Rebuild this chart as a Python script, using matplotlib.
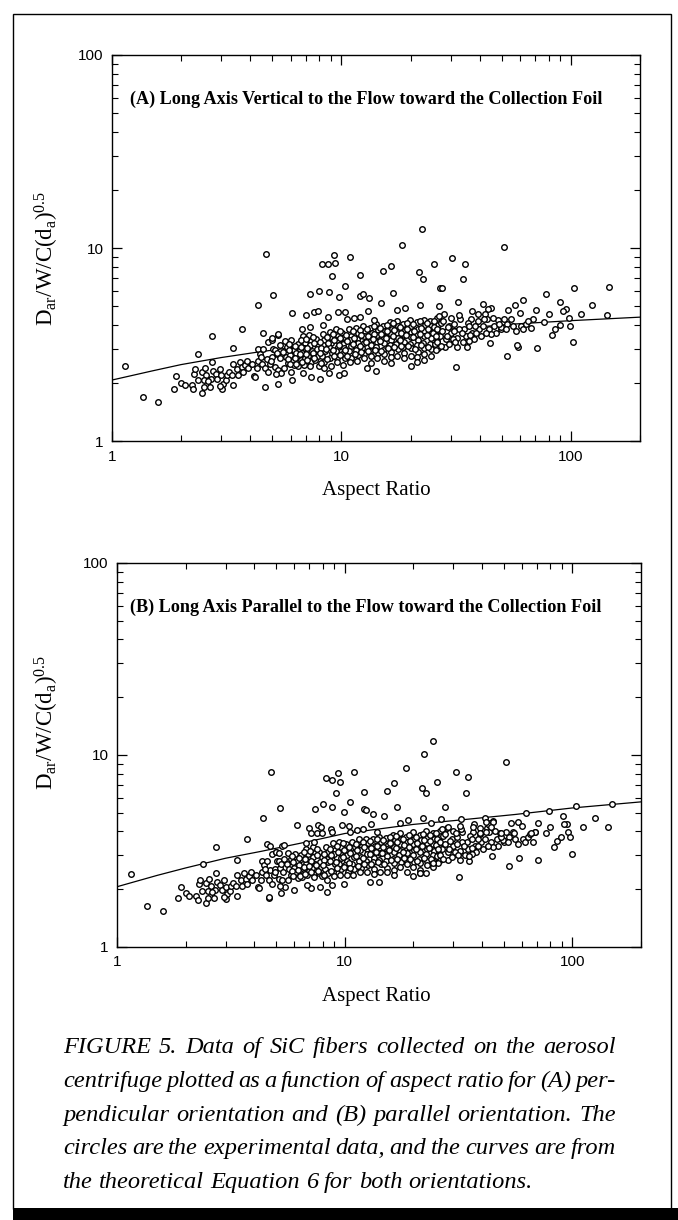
import matplotlib
matplotlib.use("Agg")
import matplotlib.pyplot as plt
from matplotlib.ticker import LogLocator, NullFormatter, FixedLocator, FixedFormatter
from matplotlib.patches import Rectangle

# ---------------- data ----------------
curve_ar = [1, 1.5, 2, 3, 4.3, 7, 10, 20, 30, 56, 100, 200]
curve_perp = [2.08, 2.32, 2.50, 2.72, 2.90, 3.13, 3.30, 3.65, 3.82, 4.05, 4.22, 4.40]
curve_par = [2.06, 2.36, 2.58, 2.90, 3.15, 3.55, 3.90, 4.35, 4.55, 4.90, 5.30, 5.70]

# dense band of fibres (same fibres, both orientations)
band_ar_low = [2.00, 2.07, 2.23, 2.26, 2.47, 2.28, 2.31, 2.46, 2.54, 2.58,
               2.52, 2.51, 2.67, 2.70, 2.76, 2.73, 2.83, 2.88, 2.95, 3.00,
               3.05, 3.02, 2.95, 3.13, 3.17, 3.23, 3.32, 3.38, 3.36, 3.49,
               3.53, 3.61, 3.67, 3.73, 3.80, 3.86, 3.93, 4.06, 4.17, 4.27,
               4.34, 4.32, 4.42, 4.49, 4.64, 4.72, 4.80, 4.88, 4.96, 5.05,
               4.80, 5.00, 4.57, 4.46, 2.62, 2.37]
band_perp_low = [2.01, 1.95, 1.95, 1.86, 1.78, 2.24, 2.38, 2.30, 2.39, 2.20,
                 2.07, 1.91, 1.91, 2.11, 2.33, 2.59, 2.24, 2.11, 2.38, 2.20,
                 1.99, 1.88, 1.93, 2.07, 2.20, 2.30, 2.21, 2.52, 1.95, 2.38,
                 2.20, 2.59, 2.42, 2.28, 2.49, 2.62, 2.39, 2.52, 2.18, 2.39,
                 2.62, 3.00, 2.84, 2.52, 2.39, 2.68, 2.28, 2.52, 2.73, 3.00,
                 3.26, 3.36, 3.00, 2.73, 2.06, 2.07]
band_par_low = [1.90, 1.85, 1.84, 1.76, 1.69, 2.12, 2.24, 2.16, 2.25, 2.07,
                1.95, 1.80, 1.81, 1.99, 2.19, 2.43, 2.10, 1.98, 2.23, 2.06,
                1.88, 1.77, 1.82, 1.95, 2.07, 2.16, 2.08, 2.37, 1.84, 2.24,
                2.07, 2.43, 2.27, 2.14, 2.34, 2.46, 2.24, 2.36, 2.05, 2.24,
                2.46, 2.81, 2.66, 2.36, 2.24, 2.51, 2.14, 2.36, 2.56, 2.81,
                3.05, 3.14, 2.81, 2.56, 1.94, 1.95]

band_ar_mid = [5.00, 5.12, 5.22, 4.93, 5.15,
               5.28, 5.42, 5.24, 5.37, 5.31, 5.47,
               5.66, 5.78, 5.58, 5.72, 5.83, 5.63,
               6.03, 6.18, 5.98, 6.12, 6.22,
               6.44, 6.58, 6.38, 6.63, 6.49,
               6.79, 6.93, 6.86, 6.73, 6.97, 6.84,
               7.24, 7.38, 7.29, 7.42, 7.18, 7.36, 7.31,
               7.74, 7.92, 7.79, 7.88, 7.68, 7.97,
               8.28, 8.43, 8.34, 8.47, 8.23, 8.41, 8.36,
               8.88, 9.03, 8.96, 8.83, 9.07, 8.91, 8.97,
               9.48, 9.67, 9.54, 9.62, 9.43, 9.61, 9.56,
               10.1, 10.3, 10.2, 10.25, 10.05, 10.35, 10.2,
               10.8, 11.05, 10.9, 10.95, 10.8, 11.0, 10.9,
               11.6, 11.85, 11.7, 11.75, 11.55, 11.8, 11.7,
               12.4, 12.65, 12.5, 12.55, 12.35, 12.6, 12.5,
               13.3, 13.55, 13.4, 13.45, 13.25, 13.5, 13.4,
               14.2, 14.45, 14.3, 14.35, 14.15, 14.4, 14.3,
               15.2, 15.45, 15.3, 15.35, 15.15, 15.4, 15.3,
               16.3, 16.55, 16.4, 16.45, 16.25, 16.5, 16.4,
               17.4, 17.65, 17.5, 17.55, 17.35, 17.6, 17.5,
               18.6, 18.85, 18.7, 18.75, 18.55, 18.8, 18.7,
               19.9, 20.15, 20.0, 20.05, 19.85, 20.1, 20.0,
               21.3, 21.55, 21.4, 21.45, 21.25, 21.5, 21.4, 21.3,
               22.8, 23.05, 22.9, 22.95, 22.75, 23.0, 22.9, 22.8,
               24.4, 24.65, 24.5, 24.55, 24.35, 24.6, 24.5,
               26.1, 26.35, 26.2, 26.25, 26.05, 26.3]
band_perp_mid = [3.42, 2.98, 2.83, 2.60, 2.44,
                 3.55, 3.16, 2.86, 2.70, 2.35, 2.26,
                 3.30, 3.10, 2.90, 2.75, 2.55, 2.40,
                 3.35, 2.97, 2.80, 2.60, 2.49,
                 3.18, 2.97, 2.76, 2.64, 2.45,
                 3.52, 3.24, 3.05, 2.86, 2.72, 2.50,
                 3.57, 3.30, 3.15, 2.93, 2.78, 2.57, 2.45,
                 3.41, 3.13, 3.01, 2.78, 2.64, 2.47,
                 3.62, 3.34, 3.15, 2.93, 2.78, 2.57, 2.41,
                 3.70, 3.47, 3.24, 3.09, 2.86, 2.70, 2.47,
                 3.84, 3.53, 3.34, 3.09, 2.94, 2.71, 2.59,
                 3.63, 3.47, 3.21, 3.05, 2.82, 2.70, 2.50,
                 3.83, 3.53, 3.34, 3.11, 2.94, 2.71, 2.59,
                 3.87, 3.65, 3.40, 3.22, 2.97, 2.80, 2.60,
                 3.98, 3.71, 3.51, 3.24, 3.05, 2.82, 2.70,
                 3.87, 3.65, 3.37, 3.17, 2.93, 2.78, 2.55,
                 4.06, 3.76, 3.54, 3.27, 3.09, 2.86, 2.70,
                 3.94, 3.71, 3.43, 3.25, 2.99, 2.82, 2.60,
                 4.14, 3.82, 3.61, 3.34, 3.15, 2.90, 2.75,
                 4.18, 3.95, 3.64, 3.44, 3.18, 3.01, 2.76,
                 4.06, 3.76, 3.54, 3.27, 3.09, 2.86, 2.70,
                 4.23, 3.98, 3.67, 3.47, 3.21, 3.03, 2.78,
                 4.14, 3.82, 3.61, 3.34, 3.15, 2.90, 2.75, 2.57,
                 4.27, 4.01, 3.71, 3.51, 3.24, 3.05, 2.82, 2.64,
                 4.18, 3.95, 3.64, 3.44, 3.18, 3.01, 2.76,
                 4.34, 4.02, 3.80, 3.50, 3.31, 3.05]
band_par_mid = [3.12, 2.82, 2.58, 2.46, 2.27,
                3.36, 2.88, 2.70, 2.47, 2.23, 2.06,
                3.07, 2.88, 2.70, 2.56, 2.37, 2.23,
                3.06, 2.80, 2.57, 2.46, 2.28,
                3.00, 2.72, 2.61, 2.42, 2.32,
                3.22, 3.05, 2.80, 2.70, 2.49, 2.36,
                3.32, 3.07, 2.93, 2.72, 2.59, 2.39, 2.32,
                3.13, 2.95, 2.76, 2.62, 2.42, 2.34,
                3.31, 3.14, 2.89, 2.76, 2.55, 2.43, 2.24,
                3.49, 3.19, 3.05, 2.84, 2.70, 2.47, 2.34,
                3.52, 3.32, 3.07, 2.91, 2.70, 2.56, 2.37,
                3.42, 3.19, 3.02, 2.80, 2.66, 2.47, 2.36,
                3.52, 3.32, 3.07, 2.93, 2.70, 2.56, 2.37,
                3.64, 3.36, 3.20, 2.96, 2.80, 2.57, 2.46,
                3.66, 3.49, 3.23, 3.05, 2.80, 2.66, 2.47,
                3.64, 3.36, 3.17, 2.91, 2.76, 2.55, 2.41,
                3.74, 3.54, 3.25, 3.08, 2.84, 2.70, 2.47,
                3.70, 3.41, 3.23, 2.98, 2.82, 2.58, 2.46,
                3.81, 3.59, 3.32, 3.14, 2.89, 2.74, 2.52,
                3.93, 3.63, 3.42, 3.16, 3.00, 2.76, 2.61,
                3.74, 3.54, 3.25, 3.08, 2.84, 2.70, 2.47,
                3.97, 3.66, 3.45, 3.19, 3.02, 2.78, 2.62,
                3.81, 3.59, 3.32, 3.14, 2.89, 2.74, 2.52, 2.43,
                4.01, 3.69, 3.49, 3.23, 3.05, 2.80, 2.66, 2.42,
                3.93, 3.63, 3.42, 3.16, 3.00, 2.76, 2.61,
                4.00, 3.78, 3.50, 3.29, 3.08, 2.84]

band_ar_fill = [5.88, 5.93, 5.86, 5.95, 6.28, 6.33, 6.25, 6.35,
                6.63, 6.69, 6.60, 6.70, 7.03, 7.09, 7.00, 7.10,
                7.52, 7.59, 7.50, 7.60, 8.07, 8.15, 8.05, 8.13,
                8.62, 8.70, 8.60, 8.68, 9.22, 9.30, 9.20, 9.28,
                9.82, 9.90, 9.80, 9.88, 10.45, 10.55, 10.4, 10.6,
                11.25, 11.35, 11.2, 11.4, 12.05, 12.15, 12.0, 12.2,
                12.9, 13.0, 12.85, 13.05, 13.8, 13.9, 13.75, 13.95,
                14.7, 14.8, 14.65, 14.85, 15.75, 15.85, 15.7, 15.9,
                16.85, 16.95, 16.8, 17.0, 18.05, 18.15, 18.0, 18.2,
                19.25, 19.35, 19.2, 19.4, 20.6, 20.8, 20.55, 20.85,
                22.0, 22.2, 21.95, 22.25, 23.6, 23.8, 23.55, 23.85,
                25.2, 25.4, 25.15, 25.45]
band_perp_fill = [3.21, 2.97, 2.66, 2.51, 3.13, 2.88, 2.71, 2.53,
                  3.35, 3.10, 2.82, 2.58, 3.40, 3.03, 2.84, 2.63,
                  3.46, 3.22, 2.87, 2.69, 3.27, 3.06, 2.86, 2.55,
                  3.48, 3.24, 3.02, 2.67, 3.60, 3.35, 2.97, 2.78,
                  3.72, 3.43, 3.15, 2.81, 3.55, 3.31, 2.96, 2.76,
                  3.71, 3.44, 3.21, 2.85, 3.78, 3.55, 3.12, 2.90,
                  3.84, 3.50, 3.27, 2.93, 3.95, 3.61, 3.38, 2.99,
                  3.86, 3.58, 3.33, 2.93, 4.02, 3.72, 3.45, 3.05,
                  4.09, 3.79, 3.50, 3.09, 3.90, 3.66, 3.37, 3.13,
                  4.11, 3.82, 3.55, 3.11, 4.04, 3.73, 3.48, 3.02,
                  4.18, 3.87, 3.62, 3.14, 4.10, 3.82, 3.54, 3.10,
                  4.22, 3.90, 3.66, 3.20]
band_par_fill = [2.98, 2.77, 2.48, 2.34, 2.91, 2.68, 2.52, 2.35,
                 3.12, 2.88, 2.62, 2.40, 3.16, 2.82, 2.64, 2.45,
                 3.22, 3.00, 2.67, 2.50, 3.04, 2.85, 2.66, 2.37,
                 3.24, 3.01, 2.81, 2.48, 3.35, 3.12, 2.76, 2.59,
                 3.46, 3.19, 2.93, 2.61, 3.30, 3.08, 2.75, 2.57,
                 3.45, 3.20, 2.99, 2.65, 3.52, 3.30, 2.90, 2.70,
                 3.57, 3.26, 3.04, 2.72, 3.67, 3.36, 3.14, 2.78,
                 3.59, 3.33, 3.10, 2.72, 3.74, 3.46, 3.21, 2.84,
                 3.80, 3.52, 3.26, 2.87, 3.63, 3.40, 3.13, 2.91,
                 3.82, 3.55, 3.30, 2.89, 3.76, 3.47, 3.24, 2.81,
                 3.89, 3.60, 3.37, 2.92, 3.81, 3.55, 3.29, 2.88,
                 3.92, 3.63, 3.40, 2.98]

band_ar_high = [54.8, 52.7, 49.8, 48.0, 44.9, 43.4, 41.5, 42.2, 43.0, 37.0,
                36.6, 39.2, 39.8, 38.3, 35.5, 34.3, 34.8, 35.1, 32.0, 32.0,
                32.6, 32.8, 32.4, 30.0, 29.5, 30.0, 28.5, 28.3, 28.0, 27.1,
                26.5, 26.2, 26.8, 25.8, 27.5, 31.0, 30.5, 40.5, 41.2, 46.4,
                47.1, 49.5, 44.0, 44.9, 37.2, 37.9, 36.1, 33.7, 26.7, 27.7,
                29.0, 28.8, 31.0, 31.3, 33.5, 36.1, 36.3, 38.6, 39.2, 41.9,
                42.6, 45.6, 48.8, 51.3, 52.1, 55.7, 57.7, 60.7, 61.7, 25.8,
                26.2, 27.1, 29.5, 67.0, 63.8, 68.2, 65.3]
band_perp_high = [4.32, 4.05, 3.81, 4.25, 4.92, 4.84, 5.12, 4.55, 4.32, 4.73,
                  4.30, 4.20, 3.81, 3.98, 4.12, 3.81, 3.52, 3.07, 3.10, 3.45,
                  3.81, 4.30, 4.50, 4.38, 3.98, 3.66, 3.39, 3.10, 4.55, 4.12,
                  5.02, 3.81, 3.52, 2.99, 3.72, 4.05, 3.39, 3.52, 3.98, 3.98,
                  3.66, 3.90, 3.81, 3.59, 3.66, 3.39, 3.32, 3.26, 4.46, 4.20,
                  3.89, 3.52, 3.74, 3.26, 3.66, 3.96, 3.55, 3.66, 4.55, 4.30,
                  3.66, 4.38, 4.05, 4.32, 3.81, 3.96, 3.74, 3.96, 3.81, 3.52,
                  3.26, 3.13, 3.20, 3.85, 4.07, 4.32, 4.20]
band_par_high = [3.98, 3.73, 3.51, 3.91, 4.53, 4.45, 4.71, 4.19, 3.97, 4.35,
                 3.96, 3.86, 3.51, 3.66, 3.79, 3.51, 3.24, 2.82, 2.85, 3.17,
                 3.51, 3.96, 4.14, 4.03, 3.66, 3.37, 3.12, 2.85, 4.19, 3.79,
                 4.62, 3.51, 3.24, 2.75, 3.42, 3.73, 3.12, 3.24, 3.66, 3.66,
                 3.37, 3.59, 3.51, 3.30, 3.37, 3.12, 3.05, 3.00, 4.10, 3.86,
                 3.58, 3.24, 3.44, 3.00, 3.37, 3.64, 3.27, 3.37, 4.19, 3.96,
                 3.37, 4.03, 3.73, 3.97, 3.51, 3.64, 3.44, 3.64, 3.51, 3.24,
                 3.00, 2.88, 2.94, 3.54, 3.74, 3.97, 3.86]

# scattered fibres, (A) perpendicular orientation
out_ar_perp = [1.14, 1.36, 1.59, 2.73, 2.36, 3.70, 3.38, 4.33, 4.55, 4.64,
               4.20, 1.86, 1.91, 4.70, 5.05, 9.25, 10.9, 8.20, 8.70, 9.40,
               9.10, 12.0, 10.4, 15.1, 16.4, 18.4, 22.5, 21.8, 22.7, 25.2,
               7.30, 7.95, 8.80, 9.80, 12.1, 12.4, 13.2, 14.8, 16.8, 26.9,
               6.10, 7.00, 7.60, 7.90, 8.70, 9.70, 10.4, 10.6, 11.3, 12.0,
               13.0, 13.9, 17.5, 19.0, 22.1, 6.70, 7.30, 8.30, 5.30, 5.30,
               6.10, 7.40, 8.10, 9.80, 10.3, 12.9, 14.1, 16.4, 20.0, 6.80,
               8.80, 5.20, 6.00, 51.0, 30.4, 34.5, 33.7, 27.5, 103, 147,
               78.0, 32.1, 62.0, 57.3, 53.3, 60.0, 70.5, 90.0, 94.8, 92.0,
               124, 111, 143, 80.0, 97.6, 98.6, 89.2, 85.5, 83.0, 102,
               76.0, 71.4, 58.9, 58.5, 52.8, 44.4, 31.7]
out_perp = [2.47, 1.70, 1.60, 3.50, 2.83, 3.84, 3.03, 5.06, 3.66, 1.91,
            2.15, 1.86, 2.17, 9.35, 5.70, 9.20, 9.06, 8.30, 8.30, 8.40,
            7.20, 7.30, 6.35, 7.60, 8.10, 10.4, 12.6, 7.50, 6.90, 8.30,
            5.80, 6.04, 5.97, 5.60, 5.65, 5.80, 5.55, 5.20, 5.90, 6.20,
            4.64, 4.50, 4.68, 4.73, 4.40, 4.68, 4.68, 4.29, 4.37, 4.42,
            4.73, 4.25, 4.79, 4.92, 5.06, 3.80, 3.89, 4.00, 3.60, 1.99,
            2.07, 2.15, 2.10, 2.20, 2.26, 2.40, 2.33, 2.54, 2.47, 2.27,
            2.27, 2.24, 2.29, 10.1, 8.90, 8.30, 6.90, 6.20, 6.20, 6.30,
            5.80, 5.30, 5.40, 5.10, 4.79, 4.64, 4.79, 5.26, 4.83, 4.73,
            5.06, 4.59, 4.52, 4.59, 4.38, 3.96, 4.00, 3.81, 3.55, 3.26,
            4.16, 3.03, 3.10, 3.14, 2.77, 3.22, 2.44]

# scattered fibres, (B) parallel orientation
out_ar_par = [1.15, 1.36, 1.60, 2.73, 2.38, 3.73, 3.37, 4.38, 4.55, 4.64,
              4.20, 1.86, 1.91, 4.73, 5.19, 9.35, 11.0, 8.25, 8.80, 9.50,
              9.20, 12.1, 10.5, 15.3, 16.5, 18.6, 22.2, 24.5, 21.8, 22.8,
              25.3, 7.38, 8.03, 8.83, 9.94, 12.2, 12.4, 13.3, 14.9, 16.9,
              27.6, 6.15, 7.00, 7.63, 7.90, 8.70, 9.77, 10.4, 10.6, 11.3,
              12.0, 13.0, 13.9, 17.5, 19.0, 22.1, 24.0, 6.73, 7.33, 7.13,
              7.58, 7.98, 8.77, 5.42, 4.72, 5.15, 4.66, 5.26, 6.00, 7.14,
              7.80, 8.33, 9.90, 12.9, 14.1, 16.4, 20.0, 6.80, 8.80, 5.20,
              51.0, 30.7, 34.9, 34.1, 32.4, 62.4, 78.9, 91.0, 104, 126,
              149, 111, 143, 94.2, 92.0, 95.7, 98.0, 70.6, 68.2, 66.0,
              80.0, 76.9, 55.2, 53.9, 57.6, 60.3, 48.7, 43.2, 41.8, 44.8,
              44.0, 36.6, 39.1, 32.1, 28.3, 30.8, 83.0, 85.5, 89.0, 31.6,
              52.8, 58.2, 70.8, 100, 44.4, 35.2, 21.3, 24.3]
out_par = [2.40, 1.63, 1.54, 3.30, 2.70, 3.65, 2.84, 4.71, 3.42, 1.80,
           2.02, 1.79, 2.06, 8.19, 5.32, 8.03, 8.20, 7.60, 7.40, 7.20,
           6.37, 6.44, 5.67, 6.50, 7.13, 8.60, 10.1, 11.8, 6.77, 6.31,
           7.27, 5.22, 5.56, 5.39, 5.03, 5.22, 5.15, 4.93, 4.82, 5.39,
           5.39, 4.32, 4.18, 4.32, 4.24, 4.10, 4.32, 4.27, 3.99, 4.06,
           4.11, 4.36, 3.95, 4.45, 4.57, 4.70, 4.40, 3.50, 3.53, 3.91,
           3.91, 3.94, 3.99, 3.40, 3.37, 3.08, 1.83, 1.90, 1.98, 2.02,
           2.06, 1.94, 2.14, 2.19, 2.19, 2.37, 2.35, 2.11, 2.11, 2.08,
           9.20, 8.16, 7.66, 6.37, 4.63, 4.97, 5.11, 4.83, 5.45, 4.72,
           5.53, 4.24, 4.24, 4.37, 4.38, 3.99, 3.76, 4.44, 3.99, 3.91,
           4.24, 3.94, 3.94, 4.41, 4.50, 4.29, 3.91, 4.32, 4.50, 4.50,
           4.24, 4.24, 3.91, 4.29, 4.24, 3.91, 3.30, 3.55, 3.72, 2.31,
           2.64, 2.90, 2.84, 3.05, 2.98, 2.97, 2.42, 2.73]

tick_values = [1, 10, 100]
tick_labels = ["1", "10", "100"]
panel_titles = ["(A) Long Axis Vertical to the Flow toward the Collection Foil",
                "(B) Long Axis Parallel to the Flow toward the Collection Foil"]
x_label = "Aspect Ratio"
y_label = r"$\mathrm{D_{ar}/W/C(d_a)^{0.5}}$"
caption_lines = [
    "FIGURE 5. Data of SiC fibers collected on the aerosol",
    "centrifuge plotted as a function of aspect ratio for (A) per-",
    "pendicular orientation and (B) parallel orientation. The",
    "circles are the experimental data, and the curves are from",
    "the theoretical Equation 6 for both orientations.",
]

# ---------------- figure ----------------
plt.rcParams["font.family"] = ["Liberation Sans", "DejaVu Sans"]
plt.rcParams["mathtext.fontset"] = "custom"
plt.rcParams["mathtext.rm"] = "Liberation Serif"
plt.rcParams["mathtext.it"] = "Liberation Serif:italic"
plt.rcParams["mathtext.bf"] = "Liberation Serif:bold"

W, H = 678, 1220
fig = plt.figure(figsize=(W / 100, H / 100), dpi=100)
fig.patch.set_facecolor("white")


def box(left, top, right, bottom):
    return [left / W, 1 - bottom / H, (right - left) / W, (bottom - top) / H]


ax_a = fig.add_axes(box(112, 55, 640, 441.5))
ax_b = fig.add_axes(box(117, 563, 641, 947))

band_ar = band_ar_low + band_ar_mid + band_ar_fill + band_ar_high
band_perp = band_perp_low + band_perp_mid + band_perp_fill + band_perp_high
band_par = band_par_low + band_par_mid + band_par_fill + band_par_high


def draw_panel(ax, title, xs, ys, cy, title_y_px, ylab_y_px, ax_bot_px):
    ax.set_xscale("log")
    ax.set_yscale("log")
    ax.plot(curve_ar, cy, color="black", lw=0.9, zorder=2)
    ax.plot(xs, ys, ls="none", marker="o", ms=4.0, mfc="white",
            mec="black", mew=1.0, zorder=3, clip_on=False)
    ax.set_xlim(1, 200)
    ax.set_ylim(1, 100)
    for s in ax.spines.values():
        s.set_linewidth(1.0)
    for axis in (ax.xaxis, ax.yaxis):
        axis.set_major_locator(FixedLocator(tick_values))
        axis.set_major_formatter(FixedFormatter(tick_labels))
        axis.set_minor_locator(LogLocator(base=10, subs=[2, 3, 4, 5, 6, 7, 8, 9], numticks=20))
        axis.set_minor_formatter(NullFormatter())
    ax.tick_params(which="both", direction="in", top=True, right=True)
    ax.tick_params(which="major", length=7, width=0.9, labelsize=11, pad=6)
    ax.tick_params(which="minor", length=4.5, width=0.8)
    fig.text(130 / W, 1 - title_y_px / H, title, family="Liberation Serif",
             weight="bold", fontsize=13.1, ha="left", va="center")
    fig.text(47 / W, 1 - ylab_y_px / H, y_label, rotation=90,
             fontsize=16.5, ha="center", va="center")
    fig.text(376 / W, 1 - (ax_bot_px + 49) / H, x_label, family="Liberation Serif",
             fontsize=15, ha="center", va="center")


draw_panel(ax_a, panel_titles[0], band_ar + out_ar_perp, band_perp + out_perp,
           curve_perp, 99, 258, 441.5)
draw_panel(ax_b, panel_titles[1], band_ar + out_ar_par, band_par + out_par,
           curve_par, 607, 722, 947)

# outer frame and thick bottom bar
fig.patches.append(Rectangle((13 / W, 1 - 1209 / H), (671 - 13) / W, (1209 - 14) / H,
                             transform=fig.transFigure, fill=False, lw=1.0,
                             edgecolor="black"))
fig.patches.append(Rectangle((13 / W, 0), (W - 13) / W, 12 / H,
                             transform=fig.transFigure, facecolor="black",
                             edgecolor="none"))

# justified italic caption
renderer = fig.canvas.get_renderer()
cap_left, cap_right = 63, 616
cap_base = [1053, 1087, 1121, 1154, 1188]
cap_fs = 17.6
space_px = 0.25 * cap_fs * 100 / 72
for i, line in enumerate(caption_lines):
    words = line.split(" ")
    objs = [fig.text(0, 1 - cap_base[i] / H, w, family="Liberation Serif",
                     style="italic", fontsize=cap_fs, ha="left", va="baseline")
            for w in words]
    widths = [o.get_window_extent(renderer=renderer).width for o in objs]
    if i < len(caption_lines) - 1:
        gap = (cap_right - cap_left - sum(widths)) / (len(words) - 1)
    else:
        gap = space_px
    x = cap_left
    for o, wdt in zip(objs, widths):
        o.set_x(x / W)
        x += wdt + gap

fig.savefig("out.png", dpi=100, facecolor="white")
